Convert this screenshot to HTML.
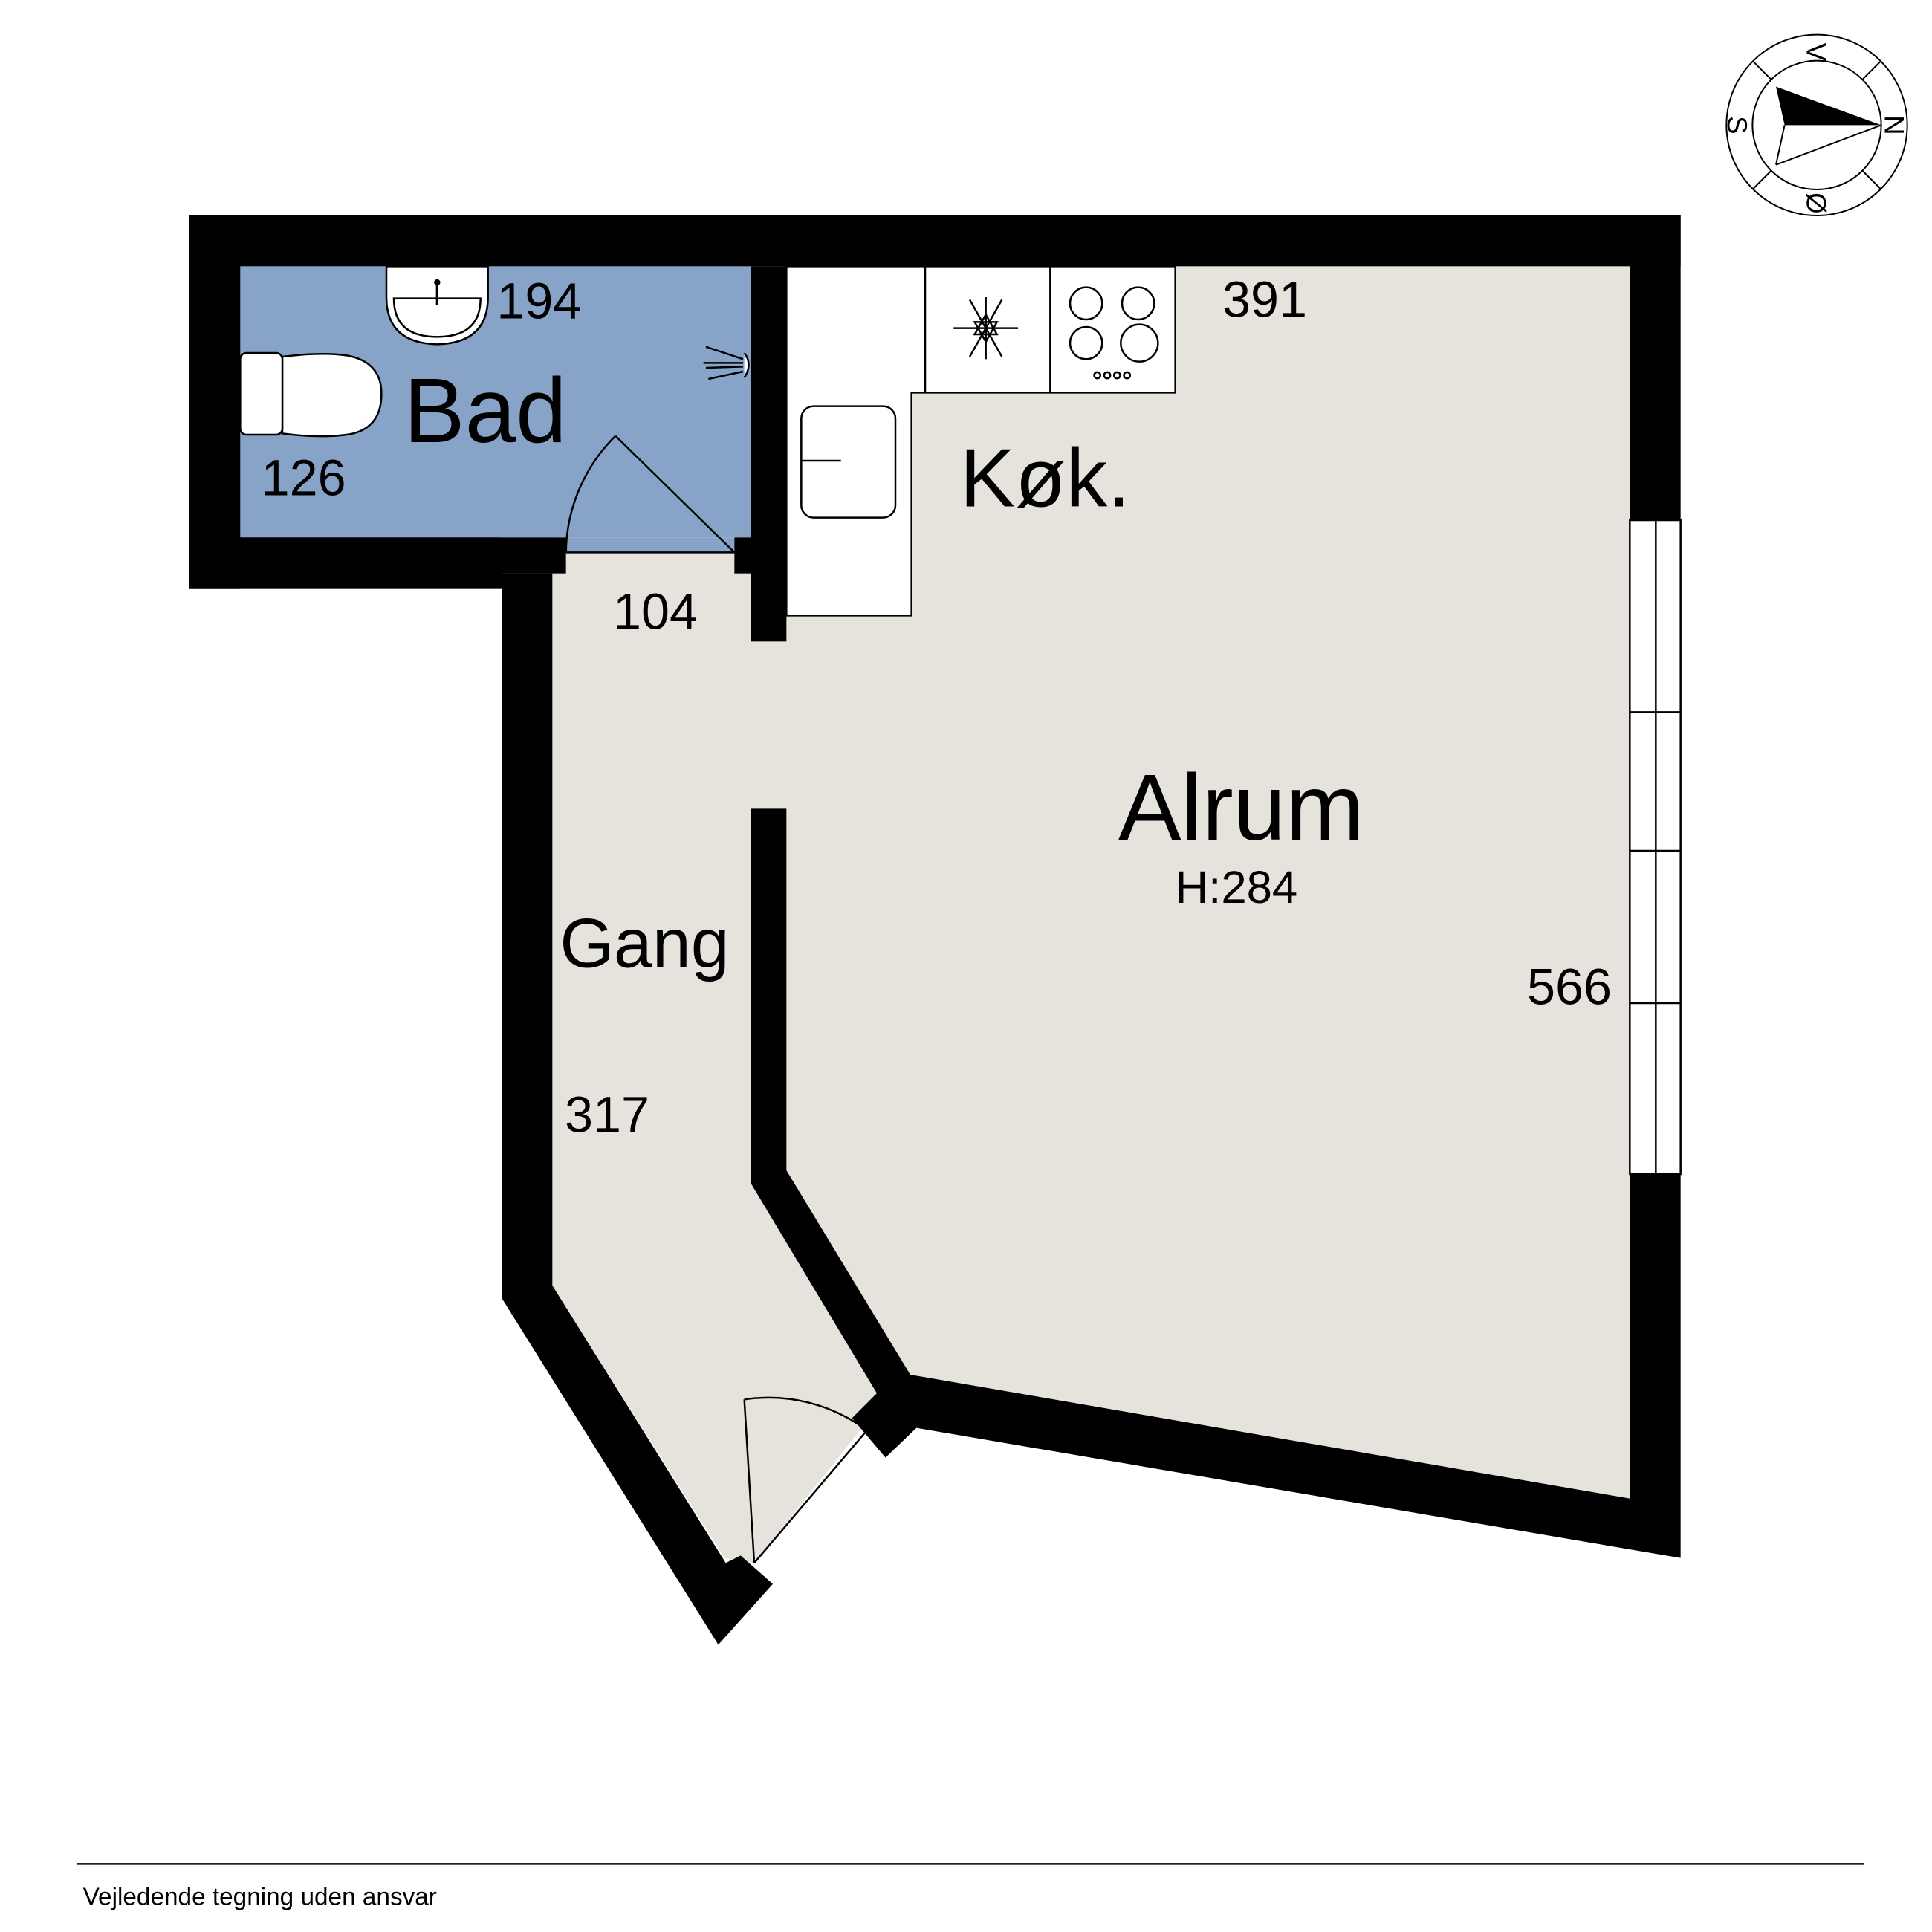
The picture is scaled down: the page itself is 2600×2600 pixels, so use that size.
<!DOCTYPE html>
<html><head><meta charset="utf-8"><style>html,body{margin:0;padding:0;background:#fff}svg{display:block}text{font-family:"Liberation Sans",sans-serif;fill:#000}</style></head>
<body>
<svg width="2600" height="2600" viewBox="0 0 1560 1560" xmlns="http://www.w3.org/2000/svg">
<rect width="1560" height="1560" fill="#fff"/>
<!-- floors -->
<rect x="194" y="215" width="412" height="219" fill="#87a3c8"/>
<polygon points="446,434 606,434 606,215 1316,215 1316,1210 735,1110 700,1148 609,1262 585,1258 446,1038" fill="#e6e2dc"/>
<rect x="457" y="434" width="136" height="12" fill="#87a3c8"/>
<!-- kitchen counter -->
<polygon points="635,215 949,215 949,317 736,317 736,497 635,497" fill="#fff" stroke="#000" stroke-width="1.5"/>
<line x1="747" y1="215" x2="747" y2="317" stroke="#000" stroke-width="1.5"/>
<line x1="848" y1="215" x2="848" y2="317" stroke="#000" stroke-width="1.5"/>
<g stroke="#000" stroke-width="1.5" fill="none">
<line x1="770" y1="265" x2="822" y2="265"/><line x1="783" y1="242" x2="809" y2="288"/><line x1="809" y1="242" x2="783" y2="288"/>
<line x1="796" y1="240" x2="796" y2="290"/>
<polygon points="796,254 805,270 787,270"/><polygon points="796,276 805,260 787,260"/>
<circle cx="877" cy="245" r="13"/><circle cx="919" cy="245" r="13"/><circle cx="877" cy="277" r="13"/><circle cx="920" cy="277" r="15"/>
<circle cx="886" cy="303" r="2.5"/><circle cx="894" cy="303" r="2.5"/><circle cx="902" cy="303" r="2.5"/><circle cx="910" cy="303" r="2.5"/>
<rect x="647" y="328" width="76" height="90" rx="10"/>
<line x1="647" y1="372" x2="679" y2="372"/>
</g>
<!-- bath fixtures -->
<g stroke="#000" stroke-width="1.5" fill="#fff">
<path d="M312,215 L312,240 Q312,277 353,278 Q394,277 394,240 L394,215 Z"/>
<path d="M318,241 Q318,272 353,272 Q388,272 388,241 Z" fill="none"/>
<path d="M228,288 Q260,284 280,287 Q308,292 308,318 Q308,347 280,351 Q258,354 228,350 Z"/>
<rect x="194" y="285" width="34" height="66" rx="5"/>
</g>
<line x1="353" y1="226" x2="353" y2="246" stroke="#000" stroke-width="2"/><circle cx="353" cy="228" r="2.5"/>
<g stroke="#000" stroke-width="1.5" fill="none">
<path d="M601,285 Q608,294 601,305" fill="#fff"/>
<line x1="570" y1="280" x2="600" y2="290"/><line x1="568" y1="293" x2="600" y2="293"/><line x1="570" y1="297" x2="600" y2="296"/><line x1="572" y1="306" x2="600" y2="300"/>
</g>
<!-- walls -->
<g fill="#000">
<rect x="153" y="174" width="1204" height="41"/>
<rect x="153" y="174" width="41" height="301"/>
<rect x="153" y="434" width="304" height="29"/>
<rect x="153" y="434" width="252" height="41"/>
<rect x="593" y="434" width="13" height="29"/>
<rect x="606" y="215" width="29" height="303"/>
<polygon points="405,463 446,463 446,1038 586,1262 598,1256 624,1279 580,1328 405,1048"/>
<polygon points="606,653 635,653 635,945 735,1110 1316,1210 1316,948 1357,948 1357,1258 740,1153 715,1177 688,1145 708,1125 606,955"/>
<rect x="1316" y="174" width="41" height="246"/>
</g>
<!-- window -->
<g stroke="#000" stroke-width="1.5" fill="#fff">
<rect x="1316" y="420" width="41" height="528"/>
<line x1="1337" y1="420" x2="1337" y2="948"/>
<line x1="1316" y1="575" x2="1357" y2="575"/><line x1="1316" y1="687" x2="1357" y2="687"/><line x1="1316" y1="810" x2="1357" y2="810"/>
</g>
<!-- doors -->
<g stroke="#000" stroke-width="1.5" fill="none">
<line x1="457" y1="446" x2="593" y2="446"/>
<line x1="593" y1="446" x2="497" y2="352"/>
<path d="M497,352 A134,134 0 0 0 457,446"/>
<line x1="609" y1="1262" x2="601" y2="1130"/>
<path d="M601,1130 A132,132 0 0 1 700,1155"/>
<line x1="609" y1="1262" x2="700" y2="1155"/>
</g>
<!-- labels -->
<text x="326" y="357" font-size="74">Bad</text>
<text x="775" y="409" font-size="67">Køk.</text>
<text x="903" y="678" font-size="76">Alrum</text>
<text x="949" y="729" font-size="37">H:284</text>
<text x="452" y="781" font-size="56">Gang</text>
<g font-size="41">
<text x="401" y="257">194</text><text x="211" y="400">126</text><text x="495" y="508">104</text>
<text x="987" y="256">391</text><text x="1233" y="811">566</text><text x="456" y="914">317</text>
</g>
<line x1="62" y1="1505" x2="1505" y2="1505" stroke="#000" stroke-width="1.5"/>
<text x="67" y="1538" font-size="20">Vejledende tegning uden ansvar</text>
<!-- compass -->
<g stroke="#000" stroke-width="1.2" fill="none">
<circle cx="1467" cy="101" r="73"/><circle cx="1467" cy="101" r="52"/>
<line x1="1430" y1="64" x2="1415" y2="49"/><line x1="1504" y1="64" x2="1519" y2="49"/>
<line x1="1430" y1="138" x2="1415" y2="153"/><line x1="1504" y1="138" x2="1519" y2="153"/>
<line x1="1441" y1="101" x2="1434" y2="133"/><line x1="1434" y1="133" x2="1519" y2="101"/>
</g>
<polygon points="1434,70 1519,101 1441,101" fill="#000"/>
<g font-size="22" text-anchor="middle">
<text transform="translate(1467,42) rotate(90)" y="8">V</text>
<text transform="translate(1530,101) rotate(90)" y="8">N</text>
<text transform="translate(1403,101) rotate(90)" y="8">S</text>
<text transform="translate(1467,164) rotate(90)" y="8">Ø</text>
</g>
</svg>
</body></html>
